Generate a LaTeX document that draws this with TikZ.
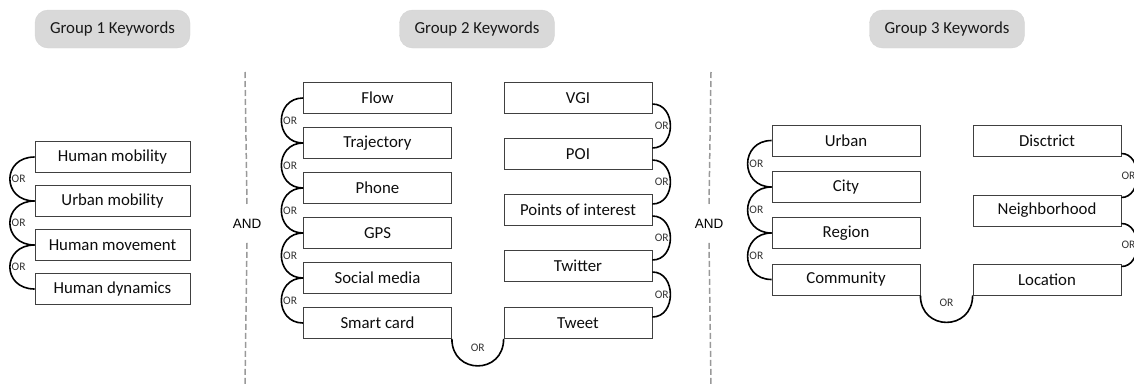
\documentclass[tikz,border=0pt]{standalone}
\usepackage{fontspec}
\setmainfont{Carlito}
\newfontfamily\andfont{Liberation Sans}
\usepackage{tikz}

\begin{document}
\begin{tikzpicture}[x=1pt, y=1pt,
		kw/.style={draw=black!75, line width=0.8pt, minimum width=148pt, minimum height=31pt, inner sep=0pt, text=black!95, font=\fontsize{16.8}{20}\selectfont},
		grp/.style={draw=black!17, fill=black!15, rounded corners=13pt, minimum width=155pt, minimum height=38pt, text=black!90, font=\fontsize{16.8}{19}\selectfont},
		orarc/.style={line width=1.6pt},
		orlab/.style={inner sep=1pt, text=black!80, font=\fontsize{11.5}{13}\selectfont},
		andlab/.style={inner xsep=2pt, inner ysep=14pt, font=\andfont\fontsize{13.5}{16}\selectfont},
		sep/.style={black!40, line width=1.5pt, dash pattern=on 6pt off 3pt}]
		\path[use as bounding box, clip] (0,0) rectangle (1134,-386);
		% group headings
		\node[grp] (g1) at (112.5,-29) {Group 1 Keywords};
		\node[grp] (g2) at (477,-29) {Group 2 Keywords};
		\node[grp] (g3) at (947,-29) {Group 3 Keywords};
		% AND separators
		\node[andlab] (and1) at (247,-224) {AND};
		\node[andlab] (and2) at (709,-224) {AND};
		\coordinate (s1t) at (245,-72);
		\coordinate (s1b) at (245,-386);
		\coordinate (s2t) at (711,-72);
		\coordinate (s2b) at (711,-386);
		\draw[sep] (s1t) -- (and1.north);
		\draw[sep] (and1.south) -- (s1b);
		\draw[sep] (s2t) -- (and2.north);
		\draw[sep] (and2.south) -- (s2b);
		% group 1
		\node[kw, minimum width=155pt] (hmob) at (112.5,-157) {Human mobility};
		\node[kw, minimum width=155pt] (umob) at (112.5,-201) {Urban mobility};
		\node[kw, minimum width=155pt] (hmov) at (112.5,-245) {Human movement};
		\node[kw, minimum width=155pt] (hdyn) at (112.5,-289) {Human dynamics};
		\draw[orarc] (hmob.west) to[out=180, in=180, distance=33pt] node[orlab, anchor=west] {OR} (umob.west);
		\draw[orarc] (umob.west) to[out=180, in=180, distance=33pt] node[orlab, anchor=west] {OR} (hmov.west);
		\draw[orarc] (hmov.west) to[out=180, in=180, distance=33pt] node[orlab, anchor=west] {OR} (hdyn.west);
		% group 2, left column
		\node[kw] (flow) at (377.5,-98) {Flow};
		\node[kw] (traj) at (377.5,-143) {Trajectory};
		\node[kw] (phone) at (377.5,-188) {Phone};
		\node[kw] (gps) at (377.5,-233) {GPS};
		\node[kw] (social) at (377.5,-278) {Social media};
		\node[kw] (scard) at (377.5,-323) {Smart card};
		\draw[orarc] (flow.west) to[out=180, in=180, distance=29pt] node[orlab, anchor=west] {OR} (traj.west);
		\draw[orarc] (traj.west) to[out=180, in=180, distance=29pt] node[orlab, anchor=west] {OR} (phone.west);
		\draw[orarc] (phone.west) to[out=180, in=180, distance=29pt] node[orlab, anchor=west] {OR} (gps.west);
		\draw[orarc] (gps.west) to[out=180, in=180, distance=29pt] node[orlab, anchor=west] {OR} (social.west);
		\draw[orarc] (social.west) to[out=180, in=180, distance=29pt] node[orlab, anchor=west] {OR} (scard.west);
		% group 2, right column
		\node[kw] (vgi) at (578,-98) {VGI};
		\node[kw] (poi) at (578,-154) {POI};
		\node[kw] (pint) at (578,-210) {Points of interest};
		\node[kw] (twitter) at (578,-266) {Twitter};
		\node[kw] (tweet) at (578,-323) {Tweet};
		\draw[orarc] ([yshift=-6pt]vgi.east) to[out=0, in=0, distance=24pt] node[orlab, anchor=east] {OR} ([yshift=6pt]poi.east);
		\draw[orarc] ([yshift=-6pt]poi.east) to[out=0, in=0, distance=24pt] node[orlab, anchor=east] {OR} ([yshift=6pt]pint.east);
		\draw[orarc] ([yshift=-6pt]pint.east) to[out=0, in=0, distance=24pt] node[orlab, anchor=east] {OR} ([yshift=6pt]twitter.east);
		\draw[orarc] ([yshift=-6pt]twitter.east) to[out=0, in=0, distance=24pt] node[orlab, anchor=east] {OR} ([yshift=6pt]tweet.east);
		\draw[orarc] (scard.south east) to[out=-90, in=-90, distance=36pt] node[orlab, above=13pt] {OR} (tweet.south west);
		% group 3, left column
		\node[kw] (urban) at (846,-140.5) {Urban};
		\node[kw] (city) at (846,-187) {City};
		\node[kw] (region) at (846,-233) {Region};
		\node[kw] (comm) at (846,-279.5) {Community};
		\draw[orarc] (urban.west) to[out=180, in=180, distance=32pt] node[orlab, anchor=west] {OR} (city.west);
		\draw[orarc] (city.west) to[out=180, in=180, distance=32pt] node[orlab, anchor=west] {OR} (region.west);
		\draw[orarc] (region.west) to[out=180, in=180, distance=32pt] node[orlab, anchor=west] {OR} (comm.west);
		% group 3, right column (runs past the edge)
		\node[kw] (dist) at (1047,-140.5) {Disctrict};
		\node[kw] (neigh) at (1047,-210.5) {Neighborhood};
		\node[kw] (loc) at (1047,-279.5) {Location};
		\draw[orarc] ([yshift=-13pt]dist.east) to[out=0, in=0, distance=21pt] node[orlab, anchor=east] {OR} ([yshift=13pt]neigh.east);
		\draw[orarc] ([yshift=-13pt]neigh.east) to[out=0, in=0, distance=21pt] node[orlab, anchor=east] {OR} ([yshift=13pt]loc.east);
		\draw[orarc] (comm.south east) to[out=-90, in=-90, distance=36pt] node[orlab, above=14pt] {OR} (loc.south west);
	\end{tikzpicture}
\end{document}
